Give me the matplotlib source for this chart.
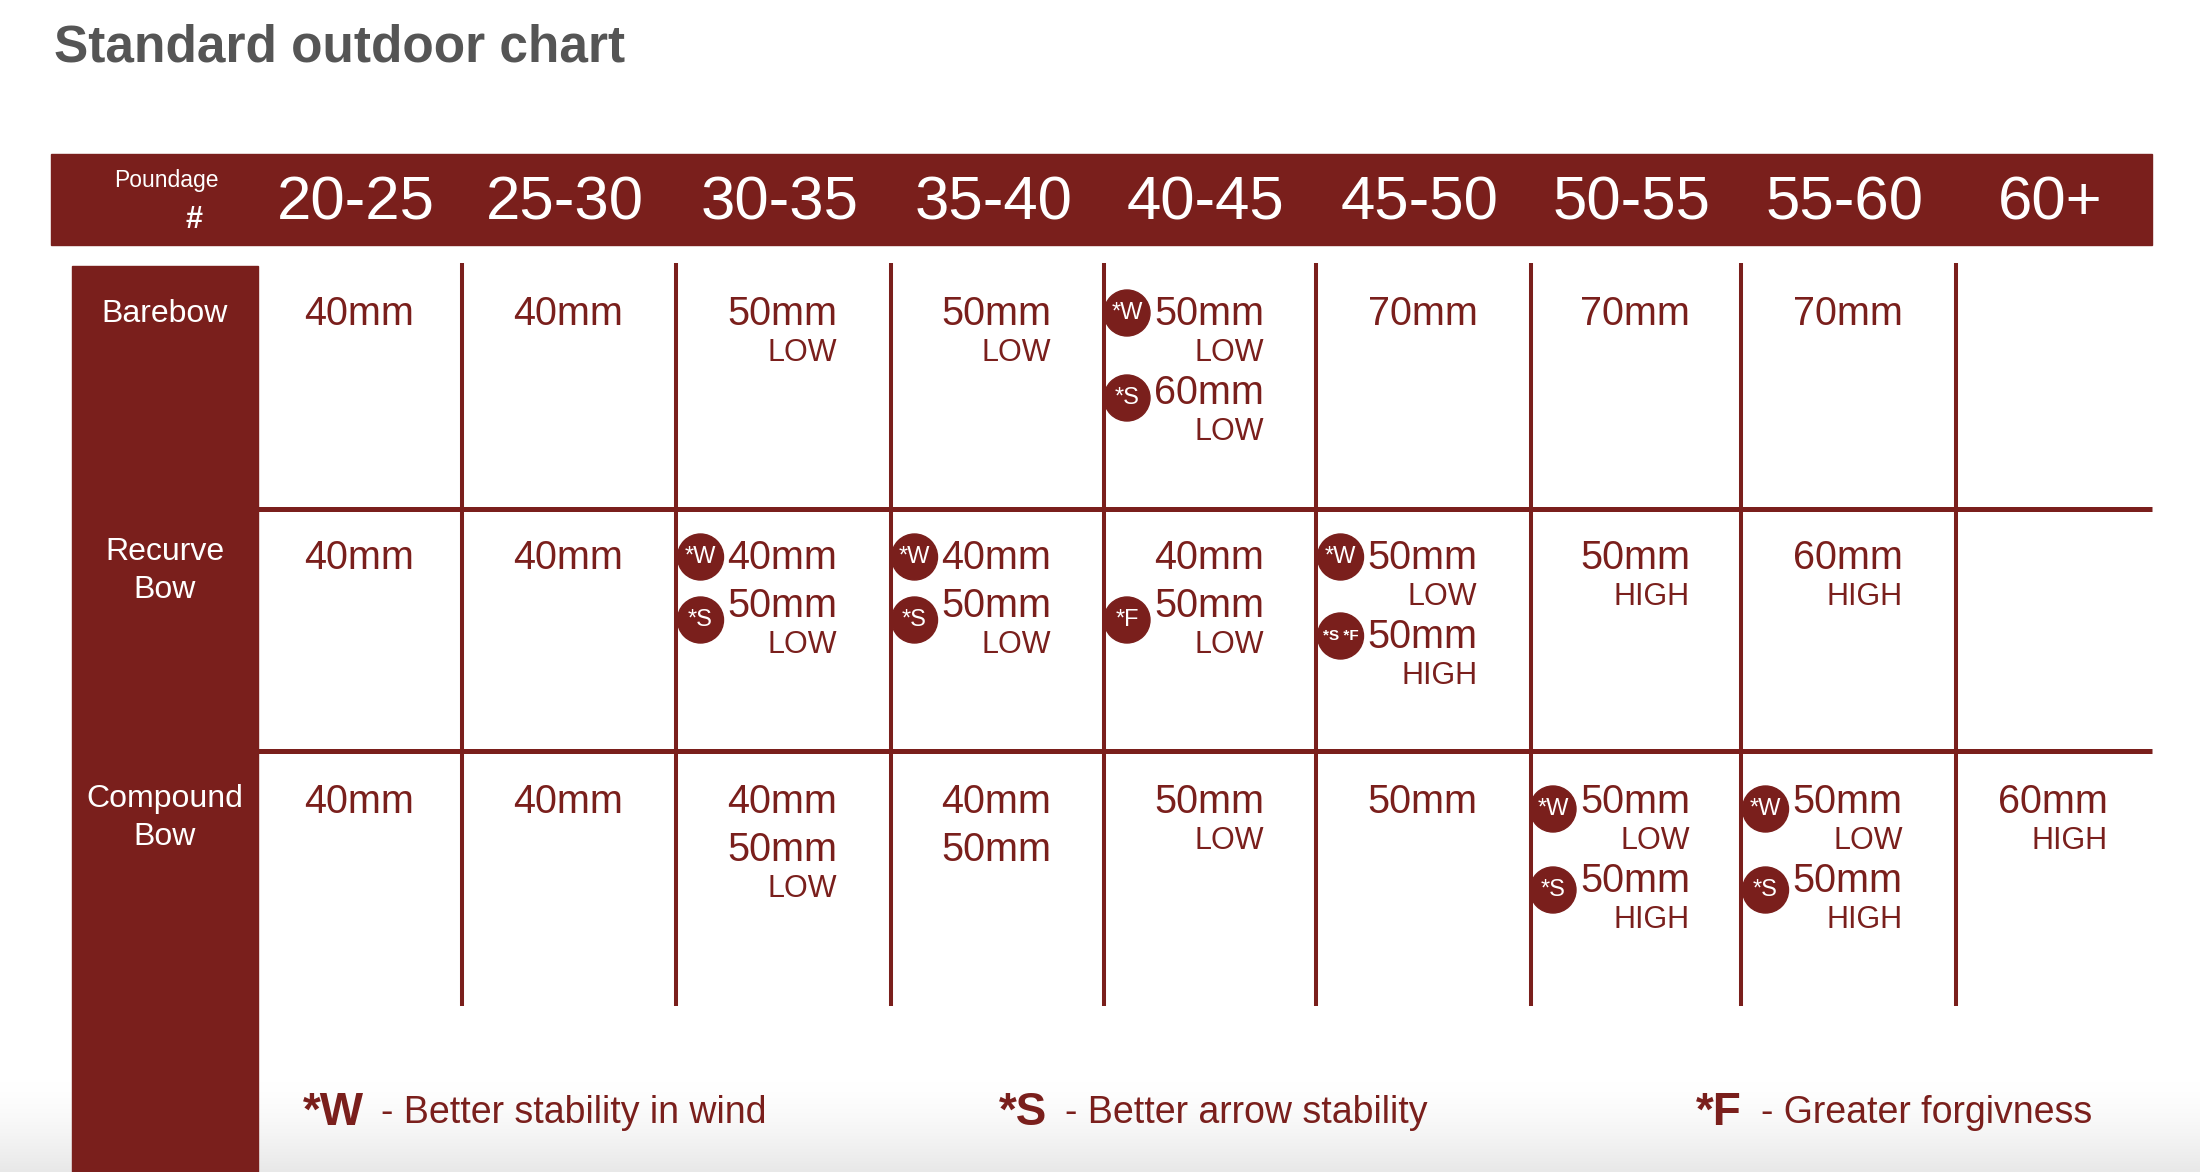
import matplotlib.pyplot as plt
import numpy as np
from matplotlib.colors import LinearSegmentedColormap
from matplotlib.patches import Circle, Rectangle

plt.rcParams["font.family"] = ["Liberation Sans", "DejaVu Sans"]

RED = "#7a1f1c"
GREY = "#555555"

# ---- chart content ----
TITLE = "Standard outdoor chart"
POUNDAGES = ["20-25", "25-30", "30-35", "35-40", "40-45", "45-50", "50-55", "55-60", "60+"]
BOW_TYPES = ["Barebow", "Recurve\nBow", "Compound\nBow"]

# each cell: list of (spine, grade, badge)
BAREBOW = [
    [("40mm", "", "")],
    [("40mm", "", "")],
    [("50mm", "LOW", "")],
    [("50mm", "LOW", "")],
    [("50mm", "LOW", "*W"), ("60mm", "LOW", "*S")],
    [("70mm", "", "")],
    [("70mm", "", "")],
    [("70mm", "", "")],
    [],
]
RECURVE = [
    [("40mm", "", "")],
    [("40mm", "", "")],
    [("40mm", "", "*W"), ("50mm", "LOW", "*S")],
    [("40mm", "", "*W"), ("50mm", "LOW", "*S")],
    [("40mm", "", ""), ("50mm", "LOW", "*F")],
    [("50mm", "LOW", "*W"), ("50mm", "HIGH", "*S *F")],
    [("50mm", "HIGH", "")],
    [("60mm", "HIGH", "")],
    [],
]
COMPOUND = [
    [("40mm", "", "")],
    [("40mm", "", "")],
    [("40mm", "", ""), ("50mm", "LOW", "")],
    [("40mm", "", ""), ("50mm", "", "")],
    [("50mm", "LOW", "")],
    [("50mm", "", "")],
    [("50mm", "LOW", "*W"), ("50mm", "HIGH", "*S")],
    [("50mm", "LOW", "*W"), ("50mm", "HIGH", "*S")],
    [("60mm", "HIGH", "")],
]
TABLE = [BAREBOW, RECURVE, COMPOUND]

LEGEND_KEYS = ["*W", "*S", "*F"]
LEGEND_TEXT = ["- Better stability in wind", "- Better arrow stability", "- Greater forgivness"]

# ---- layout (pixels, y down) ----
W, H = 2200, 1172
col_edges = [258, 462, 676, 891, 1104, 1316, 1531, 1741, 1956, 2152]
row_lines = [509, 751]
row_first_baseline = [325, 569, 813]
row_label_baselines = [[322], [560, 598], [807, 845]]
legend_key_x = [303, 999, 1696]
legend_text_x = [381, 1065, 1761]
# small vertical nudges of the badges, (row, col, line) -> px
badge_nudge = {(0, 4, 1): 6, (1, 2, 1): 15, (1, 3, 1): 15, (1, 4, 1): 15,
               (2, 6, 0): 8, (2, 6, 1): 10, (2, 7, 0): 8, (2, 7, 1): 10}

fig = plt.figure(figsize=(W / 100, H / 100), dpi=100)
ax = fig.add_axes([0, 0, 1, 1])
ax.set_xlim(0, W)
ax.set_ylim(H, 0)
ax.axis("off")

# soft grey shade along the bottom edge
shade = LinearSegmentedColormap.from_list("shade", ["#ffffff", "#e8e8e8"])
ax.imshow(np.linspace(0, 1, 100).reshape(-1, 1) ** 1.5, cmap=shade, aspect="auto",
          extent=[0, W, H, 1080], zorder=0)

ax.text(54, 62, TITLE, fontsize=37, fontweight="bold", color=GREY, va="baseline", ha="left")

# header band
ax.add_patch(Rectangle((51, 154), 2152 - 51, 91, color=RED, zorder=1))
ax.text(219, 187, "Poundage", fontsize=16.5, color="white", ha="right", va="baseline", zorder=2)
ax.text(203, 228, "#", fontsize=22, fontweight="bold", color="white", ha="right", va="baseline", zorder=2)
centers = [(a + b) / 2 for a, b in zip(col_edges[:-1], col_edges[1:])]
for cx, label in zip(centers, POUNDAGES):
    ax.text(cx - 4, 220, label, fontsize=44.5, color="white", ha="center", va="baseline", zorder=2)

# left column with bow types
ax.add_patch(Rectangle((71.5, 266), 258 - 71.5, H - 266, color=RED, zorder=1))
for name, baselines in zip(BOW_TYPES, row_label_baselines):
    for part, yb in zip(name.split("\n"), baselines):
        ax.text(165, yb, part, fontsize=23, color="white", ha="center", va="baseline", zorder=2)

# grid lines
for x in col_edges[1:-1]:
    ax.plot([x, x], [263, 1006], color=RED, lw=2.9, solid_capstyle="butt", zorder=1)
for y in row_lines:
    ax.plot([258, col_edges[-1]], [y, y], color=RED, lw=3.6, solid_capstyle="butt", zorder=1)

# cell contents
for r, row in enumerate(TABLE):
    for c, cell in enumerate(row):
        right = centers[c] + 54
        yb = row_first_baseline[r]
        for k, (spine, grade, badge) in enumerate(cell):
            ax.text(right, yb, spine, fontsize=28.5, color=RED, ha="right", va="baseline", zorder=3)
            if badge:
                by = yb - 12 + badge_nudge.get((r, c, k), 0)
                bx = right - 137
                ax.add_patch(Circle((bx, by), 23, color=RED, zorder=3))
                fs = 17 if len(badge) == 2 else 11
                ax.text(bx, by, badge, fontsize=fs, color="white", ha="center", va="center",
                        fontweight="bold" if len(badge) > 2 else "normal", zorder=4)
            if grade:
                yb += 36
                ax.text(right, yb, grade, fontsize=22, color=RED, ha="right", va="baseline", zorder=3)
                yb += 43
            else:
                yb += 48

# legend
for key, desc, kx, tx in zip(LEGEND_KEYS, LEGEND_TEXT, legend_key_x, legend_text_x):
    ax.text(kx, 1125, key, fontsize=33, fontweight="bold", color=RED, ha="left", va="baseline", zorder=3)
    ax.text(tx, 1123, desc, fontsize=27, color=RED, ha="left", va="baseline", zorder=3)

fig.savefig("out.png", dpi=100)
plt.close(fig)
